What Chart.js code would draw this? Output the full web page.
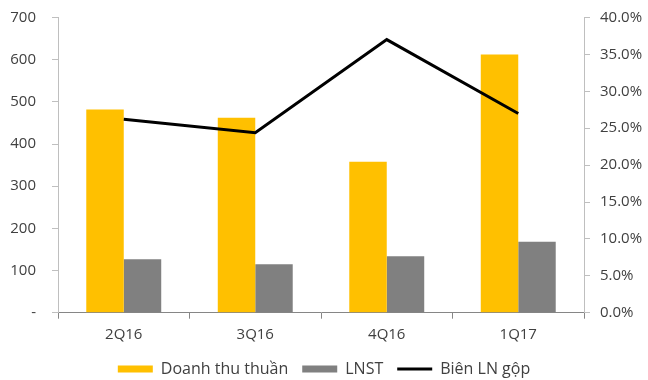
<!DOCTYPE html>
<html>
<head>
<meta charset="utf-8">
<script src="https://cdn.jsdelivr.net/npm/chart.js@4/dist/chart.umd.min.js"></script>
<style>
  html, body { margin: 0; padding: 0; background: #fff; }
  #wrap { width: 648px; height: 380px; }
</style>
</head>
<body>
<div id="wrap"><canvas id="c" width="648" height="380"></canvas></div>
<script>
// Quarterly figures
const quarters = ['2Q16', '3Q16', '4Q16', '1Q17'];
const netRevenue = [482, 462, 358, 612];      // Doanh thu thuần
const netProfit = [127, 115, 134, 168];       // LNST
const grossMargin = [26.2, 24.4, 37.0, 27.0]; // Biên LN gộp, %

const textColor = '#404040';
const font = { family: 'Open Sans', size: 15 };
const legendFont = { family: 'Open Sans', size: 16 };

// Fixed axis sizes; label overhang padding is not needed around the plot.
function fixWidth(w) {
  return scale => { scale.width = w; scale.paddingTop = 0; scale.paddingBottom = 0; };
}

new Chart(document.getElementById('c'), {
  data: {
    labels: quarters,
    datasets: [
      {
        type: 'bar',
        label: 'Doanh thu thuần',
        data: netRevenue,
        backgroundColor: '#FFC000',
        borderWidth: 0,
        yAxisID: 'y',
        order: 1,
        categoryPercentage: 0.57,
        barPercentage: 1.0
      },
      {
        type: 'bar',
        label: 'LNST',
        data: netProfit,
        backgroundColor: '#808080',
        borderWidth: 0,
        yAxisID: 'y',
        order: 1,
        categoryPercentage: 0.57,
        barPercentage: 1.0
      },
      {
        type: 'line',
        label: 'Biên LN gộp',
        data: grossMargin,
        borderColor: '#000000',
        backgroundColor: '#000000',
        borderWidth: 3,
        pointRadius: 0,
        tension: 0,
        yAxisID: 'y1',
        order: 0
      }
    ]
  },
  options: {
    responsive: false,
    animation: false,
    devicePixelRatio: 1,
    layout: { autoPadding: false, padding: { top: 17.5, right: 0, bottom: -7, left: 0 } },
    plugins: {
      tooltip: { enabled: false },
      legend: {
        position: 'bottom',
        labels: {
          font: legendFont,
          color: textColor,
          usePointStyle: true,
          pointStyleWidth: 35,
          boxHeight: 7,
          padding: 14,
          sort: (a, b) => a.datasetIndex - b.datasetIndex,
          generateLabels(chart) {
            const items = Chart.defaults.plugins.legend.labels.generateLabels(chart);
            items.forEach(it => {
              const ds = chart.data.datasets[it.datasetIndex];
              it.pointStyle = ds.type === 'line' ? 'line' : 'rect';
              if (ds.type !== 'line') it.lineWidth = 0;
            });
            return items;
          }
        }
      }
    },
    scales: {
      x: {
        offset: true,
        grid: { display: true, drawOnChartArea: false, tickLength: 6, color: '#868686', offset: true },
        border: { color: '#868686' },
        ticks: { font: font, color: textColor, padding: 7 },
        afterFit(scale) { scale.height = 34.3; scale.paddingLeft = 0; scale.paddingRight = 0; }
      },
      y: {
        position: 'left',
        min: 0,
        max: 700,
        ticks: {
          stepSize: 100,
          font: font,
          color: textColor,
          padding: 16,
          callback: v => (v === 0 ? '-' : v)
        },
        grid: { drawOnChartArea: false, tickLength: 6, color: '#BFBFBF' },
        border: { color: '#BFBFBF' },
        afterFit: fixWidth(58)
      },
      y1: {
        position: 'right',
        min: 0,
        max: 40,
        ticks: {
          stepSize: 5,
          font: font,
          color: textColor,
          padding: 10,
          callback: v => v.toFixed(1) + '%'
        },
        grid: { drawOnChartArea: false, tickLength: 6, color: '#BFBFBF' },
        border: { color: '#BFBFBF' },
        afterFit: fixWidth(64)
      }
    }
  }
});
</script>
</body>
</html>
